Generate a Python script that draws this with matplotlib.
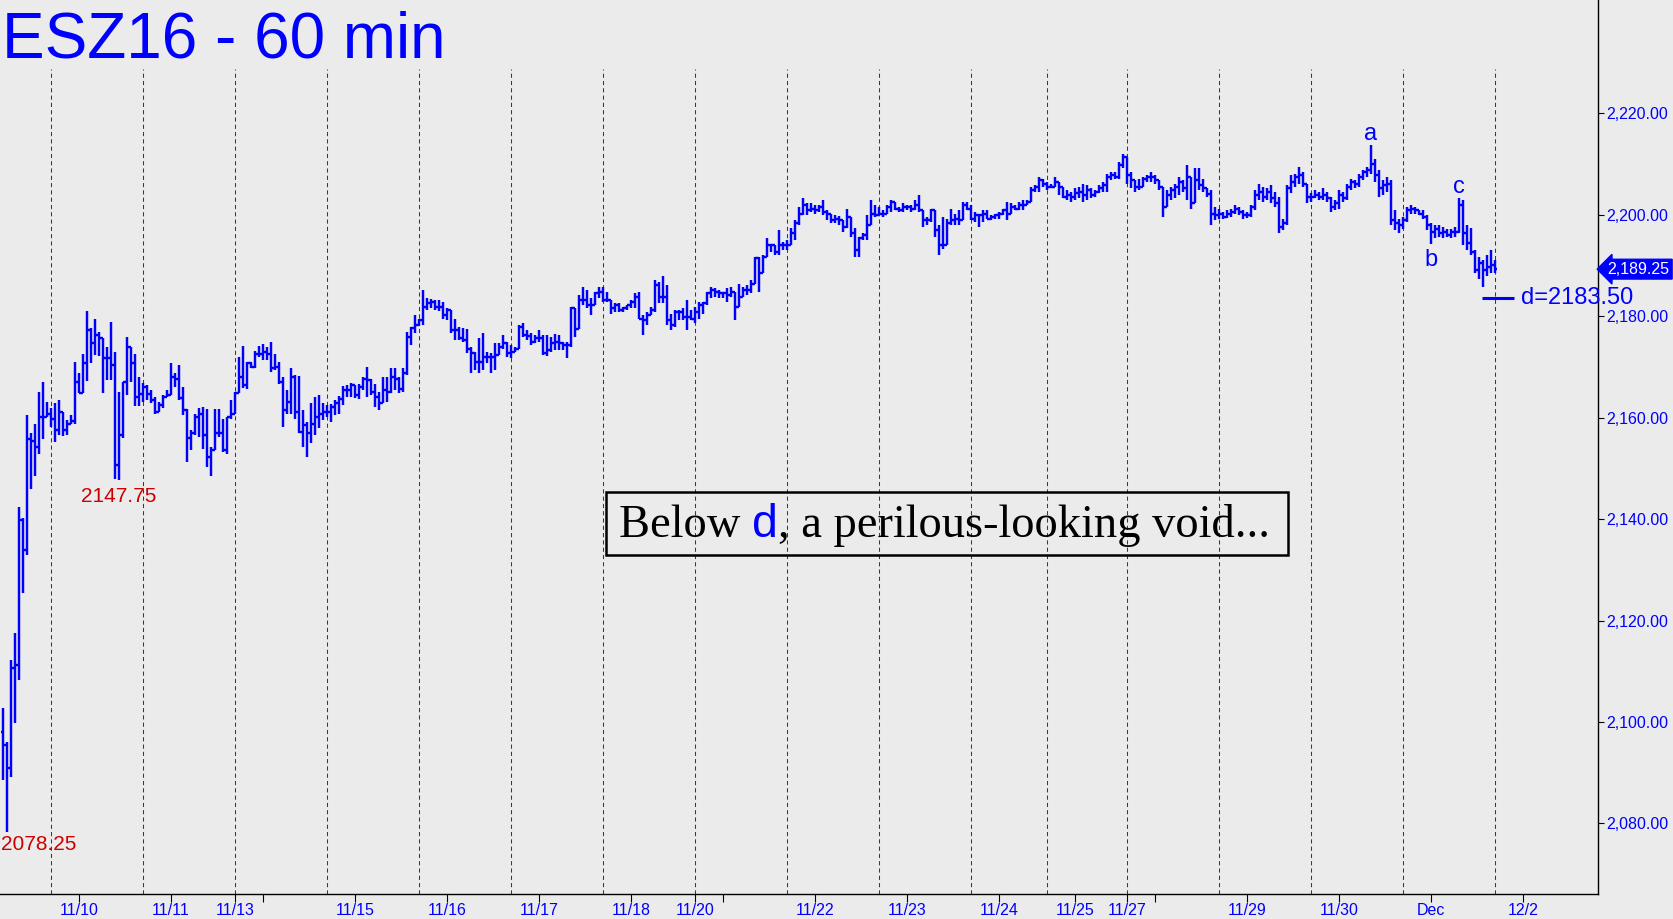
import numpy as np
import matplotlib
matplotlib.use("Agg")
import matplotlib.pyplot as plt
from matplotlib.collections import LineCollection
from matplotlib.patches import Rectangle
from matplotlib.ticker import FuncFormatter

# ESZ16 hourly bars (high, low, close); open = previous close
first_open = 2098.0
highs = [
    2102.8, 2096.1, 2112.2, 2117.5, 2142.4, 2140.2, 2160.5, 2156.9, 2158.8, 2165.1,
    2167.1, 2163.1, 2161.8, 2162.9, 2163.4, 2160.2, 2159.5, 2160.5, 2171.0, 2168.7,
    2172.6, 2181.0, 2177.6, 2179.4, 2176.9, 2175.6, 2174.0, 2178.9, 2173.0, 2165.1,
    2167.1, 2175.8, 2174.0, 2172.6, 2168.0, 2166.9, 2166.4, 2165.4, 2164.1, 2163.1,
    2164.4, 2165.4, 2170.8, 2168.7, 2170.3, 2166.1, 2161.6, 2157.5, 2160.8, 2161.8,
    2162.1, 2161.6, 2154.2, 2161.6, 2161.6, 2159.8, 2159.8, 2163.4, 2165.1, 2172.0,
    2174.1, 2171.0, 2171.0, 2173.2, 2174.1, 2174.5, 2174.0, 2174.8, 2172.6, 2171.0,
    2168.0, 2165.4, 2169.7, 2168.4, 2168.2, 2161.5, 2159.2, 2162.9, 2164.1, 2164.4,
    2162.8, 2162.5, 2162.7, 2163.4, 2164.2, 2166.2, 2166.4, 2166.9, 2166.4, 2166.7,
    2168.0, 2170.0, 2167.7, 2166.7, 2165.1, 2167.9, 2168.0, 2169.7, 2169.7, 2168.0,
    2169.7, 2176.9, 2177.9, 2180.2, 2179.5, 2185.2, 2183.5, 2183.3, 2183.1, 2183.1,
    2182.8, 2181.5, 2181.3, 2179.4, 2177.9, 2177.6, 2177.4, 2174.0, 2173.0, 2175.6,
    2176.6, 2173.0, 2172.7, 2174.6, 2174.6, 2176.3, 2174.9, 2174.3, 2174.0, 2178.2,
    2178.6, 2177.2, 2176.6, 2176.3, 2177.2, 2176.3, 2176.3, 2175.9, 2176.5, 2176.3,
    2174.9, 2174.9, 2181.8, 2181.5, 2184.1, 2185.8, 2185.1, 2183.5, 2184.8, 2185.8,
    2185.8, 2184.8, 2183.2, 2182.5, 2182.5, 2181.7, 2182.2, 2183.2, 2184.5, 2184.8,
    2180.2, 2180.9, 2181.8, 2187.1, 2186.8, 2187.9, 2186.1, 2180.5, 2181.2, 2181.2,
    2181.5, 2183.2, 2181.2, 2181.8, 2182.8, 2182.8, 2184.8, 2185.8, 2185.5, 2185.1,
    2184.8, 2185.5, 2185.8, 2184.5, 2186.4, 2185.8, 2186.1, 2187.1, 2191.7, 2191.7,
    2192.0, 2195.3, 2194.3, 2193.3, 2197.0, 2194.7, 2195.0, 2197.4, 2198.9, 2201.5,
    2203.2, 2202.2, 2202.2, 2201.9, 2201.9, 2202.9, 2200.9, 2199.9, 2199.9, 2199.7,
    2198.9, 2201.2, 2199.6, 2197.3, 2195.6, 2196.3, 2199.9, 2202.9, 2201.9, 2201.5,
    2200.9, 2201.9, 2202.9, 2202.5, 2201.5, 2202.2, 2201.9, 2201.9, 2202.9, 2203.8,
    2200.9, 2199.6, 2201.2, 2200.9, 2197.9, 2199.6, 2199.2, 2201.2, 2200.2, 2200.9,
    2202.5, 2202.5, 2201.9, 2200.6, 2200.2, 2200.9, 2200.9, 2199.9, 2200.2, 2200.6,
    2201.2, 2202.5, 2202.2, 2201.9, 2202.5, 2202.9, 2202.9, 2205.5, 2205.8, 2207.5,
    2207.1, 2206.5, 2206.1, 2207.5, 2206.1, 2205.5, 2204.8, 2204.5, 2205.2, 2205.5,
    2206.1, 2205.8, 2205.2, 2204.8, 2205.8, 2206.5, 2208.1, 2208.4, 2208.4, 2210.4,
    2212.0, 2208.8, 2208.4, 2206.8, 2207.1, 2207.5, 2207.8, 2208.4, 2207.8, 2206.8,
    2205.2, 2204.8, 2205.5, 2206.1, 2207.5, 2206.8, 2209.7, 2207.5, 2209.1, 2209.1,
    2207.1, 2205.2, 2204.8, 2201.5, 2201.2, 2200.6, 2200.9, 2201.2, 2201.9, 2201.5,
    2200.9, 2200.6, 2201.9, 2204.8, 2206.1, 2205.5, 2205.2, 2205.8, 2204.5, 2203.5,
    2199.2, 2205.8, 2207.8, 2208.1, 2209.4, 2208.4, 2206.1, 2204.2, 2204.8, 2204.5,
    2205.2, 2204.5, 2203.5, 2202.9, 2204.8, 2204.5, 2206.1, 2207.1, 2206.8, 2208.1,
    2208.8, 2209.4, 2213.8, 2211.0, 2208.8, 2206.8, 2207.5, 2206.8, 2200.9, 2199.2,
    2199.6, 2201.5, 2201.9, 2201.5, 2200.9, 2200.9, 2199.9, 2198.3, 2198.0, 2197.9,
    2197.6, 2197.2, 2197.2, 2197.6, 2203.2, 2202.9, 2198.0, 2197.3, 2193.0, 2191.7,
    2191.0, 2192.0, 2193.0, 2191.0,
]
lows = [
    2088.6, 2078.25, 2089.2, 2099.8, 2108.3, 2125.4, 2132.9, 2146.0, 2148.5, 2152.8,
    2155.7, 2160.2, 2158.2, 2155.2, 2156.5, 2156.4, 2156.5, 2158.8, 2158.8, 2164.8,
    2164.8, 2167.3, 2170.7, 2172.3, 2172.1, 2164.9, 2167.4, 2167.4, 2147.8, 2147.75,
    2155.9, 2164.4, 2167.1, 2162.3, 2162.3, 2163.1, 2163.4, 2162.8, 2160.8, 2161.6,
    2161.8, 2164.1, 2164.9, 2166.1, 2163.4, 2160.5, 2151.3, 2153.6, 2156.5, 2156.2,
    2153.9, 2150.3, 2148.5, 2153.6, 2156.2, 2153.3, 2152.9, 2159.8, 2160.8, 2164.8,
    2165.9, 2165.7, 2169.7, 2169.7, 2172.0, 2171.3, 2171.3, 2169.0, 2169.4, 2166.7,
    2158.2, 2160.8, 2160.8, 2159.8, 2156.9, 2154.2, 2152.3, 2154.9, 2156.5, 2157.9,
    2159.5, 2160.2, 2159.2, 2160.5, 2160.8, 2162.5, 2164.1, 2164.1, 2163.8, 2163.6,
    2165.4, 2164.1, 2164.4, 2162.1, 2161.5, 2162.8, 2163.1, 2164.8, 2165.4, 2164.8,
    2165.1, 2168.4, 2174.3, 2176.6, 2178.0, 2178.2, 2181.2, 2181.5, 2181.2, 2181.0,
    2179.5, 2179.2, 2176.6, 2175.3, 2175.3, 2174.9, 2172.7, 2168.8, 2169.4, 2168.7,
    2169.4, 2170.7, 2168.8, 2169.4, 2172.7, 2173.6, 2172.0, 2171.7, 2173.0, 2173.6,
    2175.9, 2175.3, 2174.3, 2174.6, 2174.9, 2172.3, 2172.1, 2173.0, 2173.3, 2173.3,
    2173.3, 2171.7, 2174.0, 2175.9, 2177.4, 2182.2, 2181.5, 2180.2, 2182.2, 2183.5,
    2182.8, 2182.8, 2180.5, 2180.9, 2180.9, 2180.9, 2181.2, 2181.5, 2181.5, 2179.5,
    2176.3, 2178.2, 2180.2, 2180.9, 2182.5, 2182.5, 2178.2, 2177.2, 2177.9, 2179.2,
    2179.2, 2177.2, 2179.2, 2178.6, 2179.5, 2180.5, 2182.2, 2183.5, 2183.8, 2183.5,
    2183.5, 2182.8, 2183.8, 2179.2, 2181.8, 2183.8, 2184.1, 2184.5, 2186.4, 2184.8,
    2188.4, 2191.7, 2192.7, 2192.0, 2192.0, 2193.0, 2193.0, 2194.0, 2195.0, 2197.9,
    2199.9, 2199.9, 2200.6, 2200.2, 2200.6, 2199.9, 2198.9, 2198.3, 2198.3, 2197.9,
    2196.6, 2197.3, 2195.6, 2191.7, 2191.7, 2195.0, 2195.0, 2197.9, 2199.6, 2199.9,
    2199.6, 2200.6, 2200.6, 2200.9, 2200.6, 2200.6, 2200.9, 2200.6, 2200.9, 2200.6,
    2197.6, 2197.9, 2198.6, 2195.6, 2192.0, 2193.3, 2194.3, 2197.9, 2197.9, 2197.9,
    2198.9, 2200.9, 2198.9, 2198.6, 2197.6, 2198.6, 2199.2, 2198.9, 2199.2, 2199.2,
    2199.9, 2198.9, 2200.2, 2200.9, 2200.9, 2200.9, 2202.2, 2202.5, 2204.5, 2204.5,
    2205.5, 2204.8, 2205.2, 2205.5, 2203.8, 2203.2, 2202.9, 2202.5, 2202.9, 2203.2,
    2202.5, 2202.9, 2203.2, 2203.5, 2204.2, 2204.5, 2204.5, 2206.8, 2207.1, 2207.1,
    2209.1, 2206.1, 2205.2, 2204.5, 2204.8, 2205.8, 2206.5, 2206.5, 2206.1, 2204.8,
    2199.6, 2201.5, 2202.9, 2203.2, 2203.8, 2204.5, 2202.9, 2201.2, 2202.5, 2204.8,
    2204.5, 2203.5, 2198.0, 2198.9, 2199.2, 2199.2, 2199.4, 2199.6, 2200.2, 2199.9,
    2199.2, 2199.4, 2199.6, 2200.9, 2202.9, 2202.5, 2202.9, 2202.2, 2201.5, 2196.3,
    2197.0, 2197.9, 2204.2, 2205.5, 2206.1, 2205.5, 2202.2, 2202.5, 2203.2, 2202.9,
    2202.9, 2202.5, 2200.6, 2200.9, 2201.2, 2202.5, 2202.9, 2204.8, 2205.2, 2205.5,
    2206.8, 2207.5, 2208.1, 2206.5, 2203.5, 2203.8, 2204.5, 2197.9, 2196.9, 2196.3,
    2197.2, 2198.6, 2200.2, 2200.2, 2199.9, 2199.2, 2197.0, 2194.3, 2195.3, 2195.5,
    2195.3, 2195.6, 2195.3, 2195.6, 2196.3, 2194.0, 2193.0, 2192.0, 2188.4, 2187.4,
    2185.8, 2188.0, 2188.4, 2188.4,
]
closes = [
    2095.5, 2090.9, 2110.6, 2111.2, 2139.8, 2133.9, 2155.7, 2155.4, 2154.2, 2160.2,
    2160.2, 2160.8, 2159.8, 2157.5, 2161.1, 2157.5, 2158.8, 2159.4, 2167.1, 2164.9,
    2170.7, 2177.2, 2174.6, 2176.3, 2175.6, 2171.7, 2171.7, 2170.3, 2150.6, 2156.5,
    2167.1, 2174.0, 2170.7, 2164.1, 2164.6, 2166.1, 2164.6, 2163.4, 2161.1, 2162.5,
    2164.1, 2164.4, 2168.0, 2167.7, 2163.8, 2161.5, 2155.9, 2157.0, 2160.2, 2160.8,
    2156.5, 2152.3, 2153.6, 2156.9, 2156.9, 2153.6, 2160.2, 2160.8, 2164.8, 2168.0,
    2166.4, 2170.7, 2170.0, 2172.5, 2172.6, 2173.0, 2172.6, 2169.7, 2170.0, 2167.1,
    2161.5, 2163.1, 2168.0, 2161.1, 2157.2, 2158.5, 2156.9, 2158.8, 2160.2, 2160.8,
    2161.1, 2161.1, 2162.1, 2162.8, 2163.6, 2165.4, 2165.4, 2166.4, 2164.4, 2166.1,
    2167.7, 2167.4, 2165.1, 2164.1, 2162.8, 2165.4, 2165.1, 2168.0, 2167.7, 2165.7,
    2168.7, 2175.9, 2177.6, 2178.2, 2179.2, 2181.8, 2182.5, 2182.8, 2181.8, 2181.7,
    2180.2, 2181.2, 2177.2, 2177.2, 2175.6, 2175.3, 2173.6, 2172.7, 2171.0, 2171.0,
    2172.0, 2172.0, 2172.0, 2172.3, 2174.0, 2174.6, 2172.7, 2173.0, 2173.6, 2177.9,
    2176.3, 2176.1, 2174.9, 2175.6, 2175.6, 2172.7, 2173.3, 2174.6, 2174.9, 2174.6,
    2174.3, 2174.3, 2181.5, 2177.4, 2183.2, 2183.2, 2182.2, 2182.2, 2184.5, 2184.8,
    2183.2, 2183.2, 2181.5, 2182.2, 2181.2, 2181.5, 2182.2, 2182.8, 2183.8, 2179.5,
    2179.2, 2180.2, 2181.2, 2186.1, 2183.8, 2183.8, 2179.2, 2178.2, 2180.9, 2180.9,
    2179.9, 2179.9, 2179.5, 2180.9, 2182.2, 2182.5, 2184.5, 2185.1, 2184.8, 2184.6,
    2184.5, 2184.1, 2184.8, 2181.8, 2183.8, 2185.1, 2185.1, 2186.4, 2191.4, 2188.4,
    2191.7, 2194.0, 2194.0, 2192.7, 2194.0, 2194.0, 2194.0, 2196.3, 2198.3, 2200.2,
    2201.9, 2200.9, 2201.2, 2200.9, 2201.5, 2200.6, 2200.2, 2198.9, 2199.2, 2198.9,
    2197.6, 2199.6, 2196.3, 2193.0, 2195.3, 2196.0, 2197.9, 2200.2, 2199.9, 2200.2,
    2200.2, 2201.5, 2202.5, 2201.2, 2200.9, 2201.5, 2201.5, 2201.2, 2201.9, 2200.9,
    2198.9, 2198.9, 2200.9, 2196.9, 2194.0, 2194.0, 2198.3, 2198.9, 2199.2, 2198.9,
    2201.9, 2201.2, 2199.2, 2199.9, 2199.9, 2200.2, 2199.2, 2199.6, 2199.9, 2200.2,
    2200.9, 2200.2, 2201.5, 2201.2, 2201.9, 2201.9, 2202.5, 2204.8, 2205.5, 2206.8,
    2206.1, 2205.5, 2205.5, 2206.5, 2205.5, 2203.5, 2203.8, 2203.5, 2204.2, 2204.5,
    2203.8, 2204.8, 2203.8, 2204.5, 2205.2, 2205.8, 2207.5, 2207.8, 2207.5, 2209.8,
    2211.4, 2207.8, 2206.8, 2205.5, 2205.5, 2207.1, 2207.5, 2207.5, 2206.8, 2205.5,
    2201.5, 2203.8, 2204.8, 2205.5, 2206.5, 2205.2, 2207.5, 2202.2, 2206.8, 2205.8,
    2205.2, 2204.0, 2200.2, 2199.9, 2200.2, 2199.6, 2200.2, 2200.6, 2201.2, 2200.6,
    2199.9, 2199.9, 2201.5, 2203.8, 2204.5, 2203.5, 2204.5, 2203.2, 2202.2, 2197.6,
    2198.3, 2205.2, 2206.5, 2207.5, 2207.8, 2206.1, 2203.5, 2203.5, 2203.8, 2203.5,
    2203.8, 2203.2, 2201.5, 2202.2, 2203.8, 2203.2, 2205.5, 2206.5, 2206.1, 2207.5,
    2208.4, 2208.8, 2210.0, 2207.8, 2205.2, 2205.8, 2206.1, 2198.9, 2198.3, 2198.0,
    2198.9, 2200.9, 2201.2, 2200.9, 2200.2, 2199.6, 2198.0, 2196.5, 2197.2, 2196.3,
    2196.6, 2196.0, 2196.6, 2196.6, 2201.9, 2196.3, 2194.5, 2192.7, 2189.0, 2190.4,
    2189.0, 2189.7, 2190.0, 2189.25,
]

# session separators (bar index) and date ticks
session_starts = [12, 35, 58, 81, 104, 127, 150, 173, 196, 219, 242, 261, 281, 304, 327, 350, 373]
tick_pos = [19, 42, 58, 65, 88, 111, 134, 157, 173, 180, 203, 226, 249, 268, 281, 288, 311, 334, 357, 380]
tick_labels = ['11/10', '11/11', '11/13', '', '11/15', '11/16', '11/17', '11/18', '11/20', '',
               '11/22', '11/23', '11/24', '11/25', '11/27', '', '11/29', '11/30', 'Dec', '12/2']
price_ticks = [2080, 2100, 2120, 2140, 2160, 2180, 2200, 2220]

wave_labels = ['a', 'b', 'c']
wave_bars = [342, 357, 364]
d_level = 2183.50

BLUE = '#0000ff'
BG = '#ebebeb'
plt.rcParams['font.family'] = ['Liberation Sans', 'DejaVu Sans']

highs = np.array(highs)
lows = np.array(lows)
closes = np.array(closes)
opens = np.concatenate([[first_open], closes[:-1]])
highs = np.maximum(highs, np.maximum(opens, closes))
lows = np.minimum(lows, np.minimum(opens, closes))
idx = np.arange(len(closes))

fig = plt.figure(figsize=(16.73, 9.19), dpi=100, facecolor=BG)
ax = fig.add_axes([0.0, 25 / 919, 1598 / 1673, 894 / 919])
ax.set_facecolor(BG)

# session dividers
for s in session_starts:
    ax.axvline(s, ymin=0, ymax=0.923, color='#3a3a3a', lw=0.75, dashes=(4, 3), zorder=1)

segs = []
for i in idx:
    segs.append([(i, lows[i]), (i, highs[i])])
    segs.append([(i - 0.55, opens[i]), (i, opens[i])])
    segs.append([(i, closes[i]), (i + 0.55, closes[i])])
ax.add_collection(LineCollection(segs, colors=BLUE, linewidths=1.75, capstyle='butt', zorder=3))

ax.set_xlim(-0.75, 398.75)
ax.set_ylim(2066.1, 2242.3)

for side in ['top', 'left']:
    ax.spines[side].set_visible(False)
for side in ['right', 'bottom']:
    ax.spines[side].set_color('black')
    ax.spines[side].set_linewidth(1.0)

ax.yaxis.tick_right()
ax.set_yticks(price_ticks)
ax.yaxis.set_major_formatter(FuncFormatter(lambda v, p: f'{v:,.2f}'))
ax.tick_params(axis='y', direction='out', length=4, width=0.8, pad=2,
               labelcolor=BLUE, labelsize=11.5)
ax.set_xticks(tick_pos)
ax.set_xticklabels(tick_labels)
ax.tick_params(axis='x', direction='out', length=6, width=0.8, pad=0.5,
               labelcolor=BLUE, labelsize=11.5)

# low labels
lo1 = int(np.argmin(lows))
ax.annotate(f'{lows[lo1]:.2f}', xy=(lo1, lows[lo1]), xytext=(-4, -2), textcoords='offset points',
            ha='left', va='top', color='#cc0000', fontsize=15)
lo2 = 29
ax.annotate(f'{lows[lo2]:.2f}', xy=(lo2, lows[lo2]), xytext=(0, -5), textcoords='offset points',
            ha='center', va='top', color='#cc0000', fontsize=15)

# wave labels
for lab, b in zip(wave_labels, wave_bars):
    if lab == 'b':
        ax.annotate(lab, xy=(b, lows[b]), xytext=(0, -4), textcoords='offset points',
                    ha='center', va='top', color=BLUE, fontsize=17)
    else:
        ax.annotate(lab, xy=(b, highs[b]), xytext=(0, 0), textcoords='offset points',
                    ha='center', va='bottom', color=BLUE, fontsize=17)

# d target
ax.hlines(d_level, 369.75, 377.75, color=BLUE, lw=2.2, zorder=3)
ax.text(379.5, d_level, f'd={d_level:.2f}', color=BLUE, fontsize=17, va='center', ha='left')

# last price tag
ax.annotate(f'{closes[-1]:,.2f}', xy=(1.0, closes[-1]), xycoords=('axes fraction', 'data'),
            xytext=(7, 0), textcoords='offset points', ha='left', va='center',
            color='white', fontsize=11.5, annotation_clip=False,
            bbox=dict(boxstyle='larrow,pad=0.15', fc=BLUE, ec=BLUE))

# title
fig.text(0.001, 1 - 57 / 919, 'ESZ16 - 60 min', color=BLUE, fontsize=46, va='baseline', ha='left')

# comment box
fig.patches.append(Rectangle((606 / 1673, 1 - 555 / 919), (1288 - 606) / 1673, (555 - 492) / 919,
                             transform=fig.transFigure, fill=False, ec='black', lw=1.8))
fig.canvas.draw()
renderer = fig.canvas.get_renderer()
x0 = 619 / 1673
yb = 1 - 537 / 919
pieces = [('Below ', 'black', ['Liberation Serif', 'DejaVu Serif']),
          ('d', BLUE, ['Liberation Sans', 'DejaVu Sans']),
          (', a perilous-looking void...', 'black', ['Liberation Serif', 'DejaVu Serif'])]
for txt, col, fam in pieces:
    t = fig.text(x0, yb, txt, color=col, family=fam, fontsize=33.5, va='baseline', ha='left')
    bb = t.get_window_extent(renderer)
    x0 = bb.x1 / fig.bbox.width

fig.savefig('out.png', dpi=100, facecolor=BG)
